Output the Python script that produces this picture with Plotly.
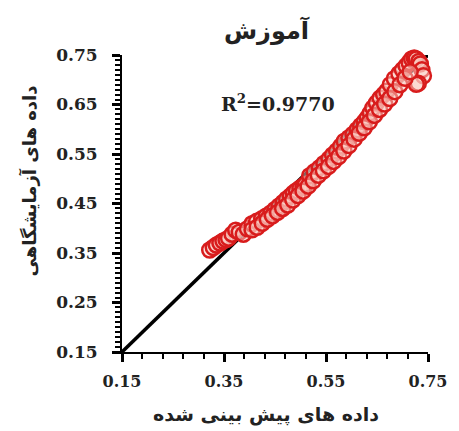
import plotly.graph_objects as go

# Predicted vs. laboratory values (training set)
pred_main = [0.322, 0.329, 0.335, 0.342, 0.348, 0.354, 0.359, 0.366, 0.373, 0.380,
             0.388, 0.396, 0.405, 0.414, 0.424, 0.433, 0.442, 0.450, 0.458, 0.466,
             0.473, 0.480, 0.486, 0.492, 0.499, 0.505, 0.510, 0.518, 0.527, 0.537,
             0.546, 0.556, 0.563, 0.571, 0.579, 0.586, 0.595, 0.603, 0.611, 0.618,
             0.625, 0.631, 0.637, 0.642, 0.649, 0.656, 0.663, 0.669, 0.676, 0.684,
             0.693, 0.700, 0.707, 0.713, 0.718, 0.723, 0.727, 0.732, 0.735, 0.738,
             0.741, 0.731, 0.727]
lab_main = [0.356, 0.361, 0.366, 0.370, 0.374, 0.377, 0.380, 0.388, 0.396, 0.392,
            0.388, 0.399, 0.409, 0.414, 0.419, 0.425, 0.431, 0.438, 0.445, 0.452,
            0.459, 0.465, 0.471, 0.476, 0.481, 0.485, 0.489, 0.506, 0.514, 0.522,
            0.531, 0.540, 0.548, 0.556, 0.566, 0.576, 0.583, 0.590, 0.599, 0.607,
            0.615, 0.623, 0.633, 0.643, 0.653, 0.663, 0.670, 0.677, 0.690, 0.702,
            0.712, 0.720, 0.728, 0.735, 0.742, 0.744, 0.742, 0.737, 0.732, 0.720,
            0.708, 0.693, 0.691]
pred_extra = [0.405, 0.415, 0.425, 0.435, 0.445, 0.455, 0.465, 0.475, 0.485, 0.495,
              0.505, 0.515, 0.525, 0.535, 0.545, 0.555, 0.565, 0.575, 0.585, 0.595,
              0.605, 0.615, 0.625, 0.635, 0.645, 0.655, 0.665, 0.675, 0.685, 0.695,
              0.705, 0.715]
lab_extra = [0.397, 0.402, 0.410, 0.418, 0.425, 0.432, 0.440, 0.447, 0.457, 0.466,
             0.475, 0.485, 0.496, 0.507, 0.516, 0.525, 0.535, 0.545, 0.556, 0.567,
             0.580, 0.592, 0.603, 0.615, 0.628, 0.640, 0.651, 0.662, 0.676, 0.690,
             0.703, 0.716]

predicted = pred_main + pred_extra
laboratory = lab_main + lab_extra

# 1:1 reference line
ref_x = [0.15, 0.75]
ref_y = [0.15, 0.75]

x_ticks = [0.15, 0.35, 0.55, 0.75]
y_ticks = [0.15, 0.25, 0.35, 0.45, 0.55, 0.65, 0.75]

r2_text = "R<sup>2</sup>=0.9770"
title_text = "آموزش"
x_title = "داده های پیش بینی شده"
y_title = "داده های آزمایشگاهی"

fa_font = "DejaVu Sans"
num_font = "DejaVu Serif"

fig = go.Figure()
fig.add_trace(go.Scatter(
    x=ref_x, y=ref_y, mode="lines",
    line=dict(color="black", width=3.5),
    hoverinfo="skip", showlegend=False,
))
fig.add_trace(go.Scatter(
    x=predicted, y=laboratory, mode="markers", cliponaxis=False,
    marker=dict(size=15, color="rgba(250,205,195,0.5)",
                line=dict(color="#d81c1c", width=2.5)),
    showlegend=False,
))

fig.update_xaxes(
    range=[0.15, 0.75], tickvals=x_ticks, ticktext=[f"{v:.2f}" for v in x_ticks],
    showline=True, linecolor="black", linewidth=2,
    ticks="outside", ticklen=8, tickwidth=2.5, tickcolor="black",
    showgrid=False, zeroline=False,
    tickfont=dict(family=num_font, size=16, color="#222", weight="bold"),
    ticklabeloverflow="allow", ticklabelstandoff=6,
    minor=dict(dtick=0.04, tick0=0.15, ticks="outside", ticklen=5,
               tickwidth=2, tickcolor="black", showgrid=False),
)
fig.update_yaxes(
    range=[0.15, 0.75], tickvals=y_ticks, ticktext=[f"{v:.2f}" for v in y_ticks],
    showline=True, linecolor="black", linewidth=2,
    ticks="outside", ticklen=8, tickwidth=2.5, tickcolor="black",
    showgrid=False, zeroline=False,
    tickfont=dict(family=num_font, size=17, color="#222", weight="bold"),
    minor=dict(dtick=0.01, tick0=0.15, ticks="outside", ticklen=5,
               tickwidth=2, tickcolor="black", showgrid=False),
    ticklabelstandoff=11,
)

fig.update_layout(
    width=459, height=431,
    margin=dict(l=122, r=19, t=55, b=79),
    paper_bgcolor="white", plot_bgcolor="white",
    annotations=[
        dict(text=title_text, xref="paper", yref="paper", x=0.475, y=1.0,
             xanchor="center", yanchor="middle", yshift=25, showarrow=False,
             font=dict(family=fa_font, size=24, color="#222", weight="bold")),
        dict(text=r2_text, xref="paper", yref="paper", x=0.51, y=0.84,
             xanchor="center", yanchor="middle", showarrow=False,
             font=dict(family=num_font, size=19, color="#222", weight="bold")),
        dict(text=x_title, xref="paper", yref="paper", x=0.47, y=0,
             xanchor="center", yanchor="middle", yshift=-62, showarrow=False,
             font=dict(family=fa_font, size=19, color="#222", weight="bold")),
        dict(text=y_title, xref="paper", yref="paper", x=0, y=0.5,
             xanchor="center", yanchor="middle", xshift=-94, yshift=22,
             textangle=-90, showarrow=False,
             font=dict(family=fa_font, size=18, color="#222", weight="bold")),
    ],
)

fig.write_html("out.html")
